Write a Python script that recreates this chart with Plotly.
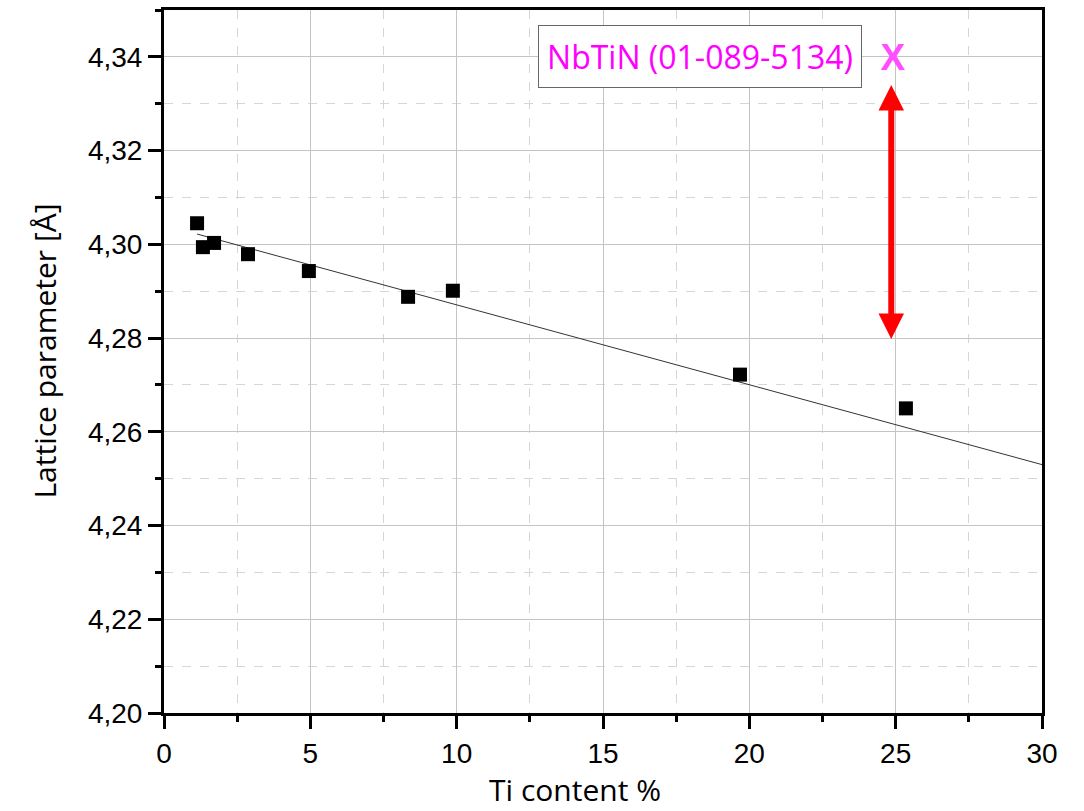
import plotly.graph_objects as go

# Data
ti_content = [1.13, 1.33, 1.71, 2.87, 4.95, 8.34, 9.87, 19.68, 25.35]
lattice = [4.3045, 4.2994, 4.3003, 4.2979, 4.2943, 4.2888, 4.2901, 4.2722, 4.2650]

fit_x = [1.13, 30.0]
fit_y = [4.3022, 4.2530]

ref_x = [24.9]
ref_y = [4.3392]
ref_label = "NbTiN (01-089-5134)"

arrow_x = 24.85
arrow_top = 4.3340
arrow_bottom = 4.2795

ytick_vals = [4.20, 4.22, 4.24, 4.26, 4.28, 4.30, 4.32, 4.34]
ytick_text = ["4,20", "4,22", "4,24", "4,26", "4,28", "4,30", "4,32", "4,34"]
xtick_vals = [0, 5, 10, 15, 20, 25, 30]

x_title = "Ti content %"
y_title = "Lattice parameter [Å]"

# plot area in pixels (for placing paper-anchored text)
L, R, T, B = 164, 1042, 7, 713
def px(xp):
    return (xp - L) / (R - L)
def py(yp):
    return 1 - (yp - T) / (B - T)

fig = go.Figure()

fig.add_trace(go.Scatter(
    x=fit_x, y=fit_y, mode="lines",
    line=dict(color="#333333", width=1),
    showlegend=False, hoverinfo="skip"))

fig.add_trace(go.Scatter(
    x=ti_content, y=lattice, mode="markers",
    marker=dict(symbol="square", size=14, color="black"),
    showlegend=False))

fig.add_trace(go.Scatter(
    x=ref_x, y=ref_y, mode="text", text=["X"],
    textposition="middle center",
    textfont=dict(family="Liberation Sans, Arial", size=37, color="#ff4dff", weight="bold"),
    showlegend=False))

fig.add_annotation(
    x=arrow_x, y=arrow_top, ax=arrow_x, ay=arrow_bottom,
    xref="x", yref="y", axref="x", ayref="y",
    text="", showarrow=True, arrowhead=2, startarrowhead=2,
    arrowside="end+start", arrowwidth=6, arrowsize=0.85, startarrowsize=0.85,
    arrowcolor="#ff0000", standoff=0, startstandoff=0)

fig.add_annotation(
    x=px(538), y=py(22), xref="paper", yref="paper", text=ref_label,
    showarrow=False, xanchor="left", yanchor="top",
    font=dict(family="Open Sans", size=32, color="#ff00ff"),
    bordercolor="#666666", borderwidth=1, borderpad=6, bgcolor="white",
    width=310, height=49)

fig.add_annotation(
    x=px(575), y=py(790), xref="paper", yref="paper", text=x_title,
    showarrow=False, xanchor="center", yanchor="middle",
    font=dict(family="Open Sans", size=30, color="black"))

fig.add_annotation(
    x=px(45), y=py(350), xref="paper", yref="paper", text=y_title,
    showarrow=False, xanchor="center", yanchor="middle", textangle=-90,
    font=dict(family="Open Sans", size=30, color="black"))

axis_font = dict(family="Liberation Sans, Arial", size=28, color="black")

fig.update_layout(
    width=1084, height=811,
    margin=dict(l=L, r=1084 - R, t=T, b=811 - B),
    plot_bgcolor="white", paper_bgcolor="white",
    xaxis=dict(
        range=[0, 30], tickvals=xtick_vals,
        showline=True, linecolor="black", linewidth=3, mirror=True,
        ticks="outside", ticklen=13, tickwidth=2.5, tickcolor="black",
        showgrid=True, gridcolor="#c4c4c4", gridwidth=1,
        zeroline=False,
        tickfont=axis_font,
        minor=dict(dtick=2.5, tick0=0, ticks="outside", ticklen=6, tickwidth=2.5, tickcolor="black",
                   showgrid=True, gridcolor="#d6d6d6", griddash="dash", gridwidth=1),
    ),
    yaxis=dict(
        range=[4.20, 4.35], tickvals=ytick_vals, ticktext=ytick_text,
        showline=True, linecolor="black", linewidth=3, mirror=True,
        ticks="outside", ticklen=13, tickwidth=2.5, tickcolor="black",
        showgrid=True, gridcolor="#c4c4c4", gridwidth=1,
        zeroline=False,
        tickfont=axis_font,
        minor=dict(dtick=0.01, tick0=4.20, ticks="outside", ticklen=6, tickwidth=2.5, tickcolor="black",
                   showgrid=True, gridcolor="#d6d6d6", griddash="dash", gridwidth=1),
    ),
)

fig.write_html("out.html")
